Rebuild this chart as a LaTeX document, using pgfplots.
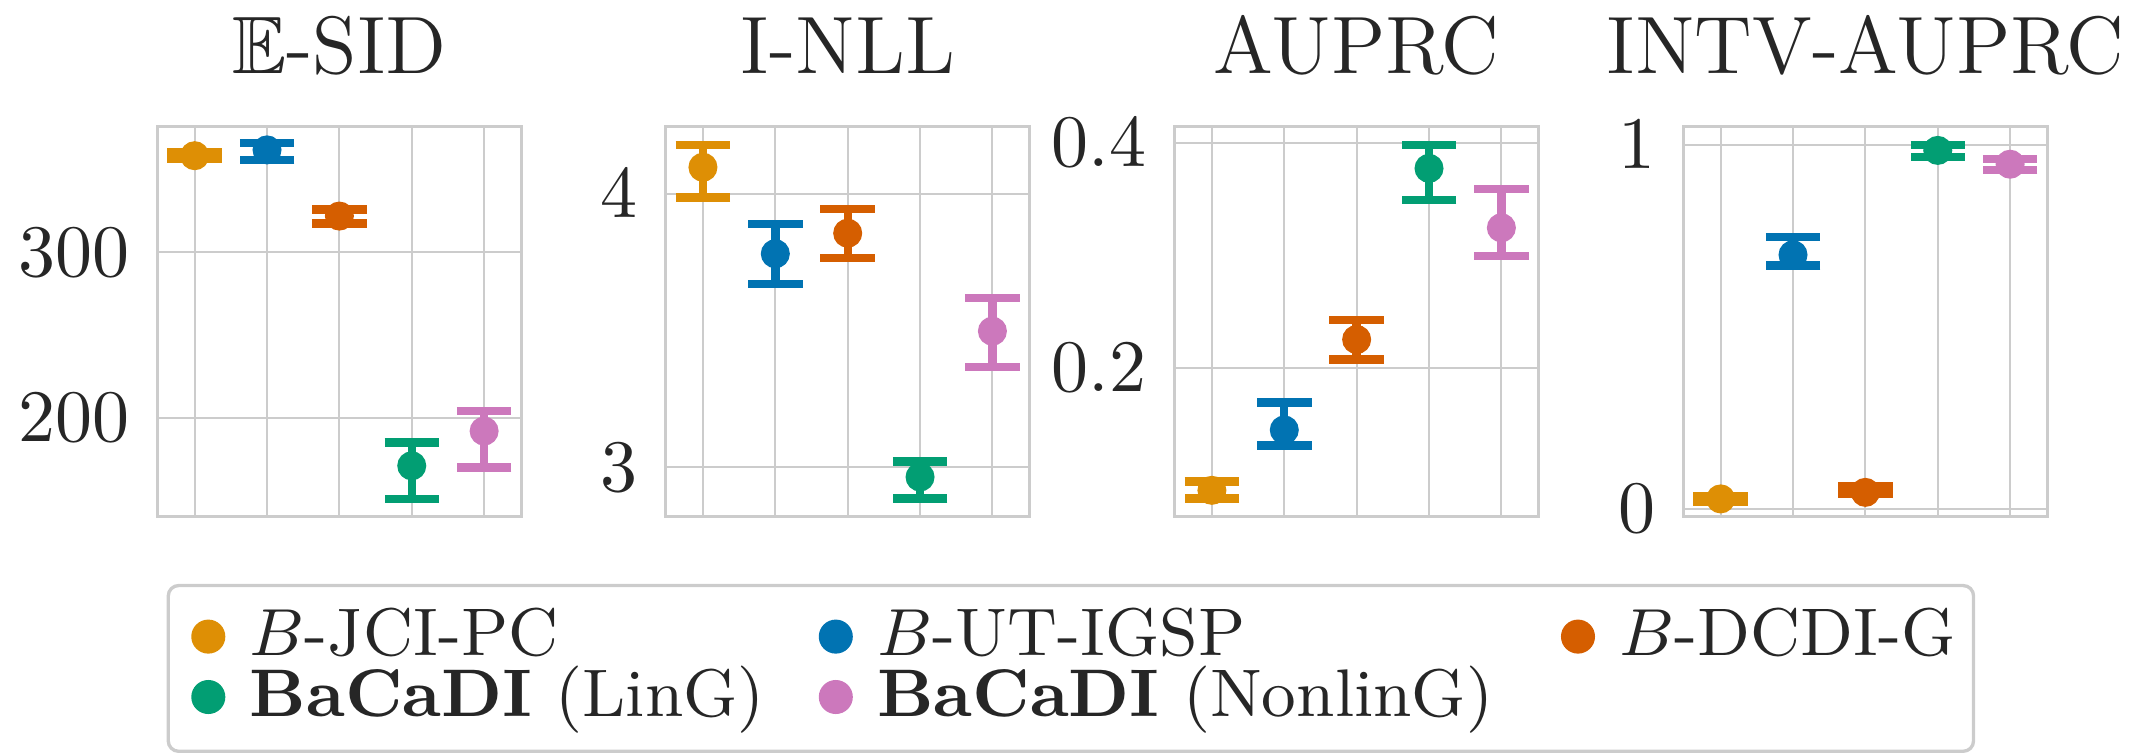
\documentclass[border=0pt]{standalone}
\usepackage{amssymb}
\usepackage{pgfplots}
\pgfplotsset{compat=1.18}
\definecolor{cO}{HTML}{DE8F05}
\definecolor{cB}{HTML}{0173B2}
\definecolor{cV}{HTML}{D55E00}
\definecolor{cG}{HTML}{029E73}
\definecolor{cP}{HTML}{CC78BC}
\definecolor{gridc}{HTML}{CCCCCC}
\definecolor{textc}{HTML}{262626}
\pgfplotsset{
  panel/.style={scale only axis, width=49.19pt, height=52.7pt, anchor=south west,
    xmin=-0.515, xmax=4.515, xtick={0,1,2,3,4}, xticklabels={},
    grid=major, major grid style={draw=gridc, line width=0.27pt},
    axis line style={draw=gridc, line width=0.45pt},
    major tick length=0pt, tick style={draw=none},
    yticklabel style={text=textc, inner sep=0pt, xshift=-3.6pt},
    title style={anchor=base, at={(0.5,1)}, yshift=1.2pt, text=textc,
      font=\fontsize{11}{13}\selectfont}},
  pt/.style={color=#1, only marks, mark=*, mark size=1.76pt,
    error bars/.cd, y dir=both, y explicit,
    error bar style={line width=1.13pt, color=#1},
    error mark options={rotate=90, line width=1.13pt, mark size=3.68pt, color=#1}},
}
\newcommand{\lt}[1]{\makebox[0pt][l]{\hspace{3pt}\rule[-2.05pt]{0pt}{8.55pt}#1}}
\begin{document}
\begin{tikzpicture}[x=1pt,y=1pt]
\useasboundingbox (0,0) rectangle (290.41,102.03);
% Panel 1
\begin{axis}[panel, at={(21.27pt,32.2pt)}, ymin=140.2, ymax=376.0, ytick={200,300}, title={$\mathbb{E}$-SID}]
\addplot[pt=cO] coordinates {(0,358.5) += (0,2.3) -= (0,2.0)};
\addplot[pt=cB] coordinates {(1,362) += (0,4) -= (0,6)};
\addplot[pt=cV] coordinates {(2,322) += (0,4) -= (0,4.5)};
\addplot[pt=cG] coordinates {(3,171) += (0,14) -= (0,20)};
\addplot[pt=cP] coordinates {(4,192) += (0,12) -= (0,22)};
\end{axis}
% Panel 2
\begin{axis}[panel, at={(89.96pt,32.2pt)}, ymin=2.82, ymax=4.245, ytick={3,4}, title={I-NLL}]
\addplot[pt=cO] coordinates {(0,4.097) += (0,0.082) -= (0,0.110)};
\addplot[pt=cB] coordinates {(1,3.781) += (0,0.108) -= (0,0.111)};
\addplot[pt=cV] coordinates {(2,3.856) += (0,0.089) -= (0,0.091)};
\addplot[pt=cG] coordinates {(3,2.965) += (0,0.057) -= (0,0.078)};
\addplot[pt=cP] coordinates {(4,3.498) += (0,0.121) -= (0,0.132)};
\end{axis}
% Panel 3
\begin{axis}[panel, at={(158.74pt,32.2pt)}, ymin=0.0675, ymax=0.4145, ytick={0.2,0.4}, title={AUPRC}]
\addplot[pt=cO] coordinates {(0,0.091) += (0,0.0078) -= (0,0.0073)};
\addplot[pt=cB] coordinates {(1,0.1447) += (0,0.0246) -= (0,0.0139)};
\addplot[pt=cV] coordinates {(2,0.2252) += (0,0.0171) -= (0,0.0178)};
\addplot[pt=cG] coordinates {(3,0.3775) += (0,0.0205) -= (0,0.0281)};
\addplot[pt=cP] coordinates {(4,0.3246) += (0,0.0346) -= (0,0.0249)};
\end{axis}
% Panel 4
\begin{axis}[panel, at={(227.49pt,32.2pt)}, ymin=-0.022, ymax=1.05, ytick={0,1}, title={INTV-AUPRC}]
\addplot[pt=cO] coordinates {(0,0.027) += (0,0.007) -= (0,0.007)};
\addplot[pt=cB] coordinates {(1,0.698) += (0,0.049) -= (0,0.029)};
\addplot[pt=cV] coordinates {(2,0.045) += (0,0.016) -= (0,0.005)};
\addplot[pt=cG] coordinates {(3,0.985) += (0,0.015) -= (0,0.019)};
\addplot[pt=cP] coordinates {(4,0.947) += (0,0.015) -= (0,0.016)};
\end{axis}
% Legend frame
\draw[gridc, line width=0.45pt, rounded corners=1.4pt] (22.74,0.5) rectangle (266.7,22.9);
% Legend
\begin{axis}[scale only axis, hide axis, at={(26.05pt,0pt)}, anchor=south west,
  width=100pt, height=20pt, xmin=0, xmax=1, ymin=0, ymax=1,
  legend columns=3,
  legend image code/.code={\draw[#1] plot coordinates {(0pt,0pt)};},
  legend style={at={(0,1)}, anchor=north west, draw=none, fill=none,
    inner sep=0pt, outer sep=0pt,
    font=\fontsize{9.1}{10.8}\selectfont, text=textc,
    nodes={inner sep=0pt, outer sep=0pt},
    column sep=0pt, row sep=0pt,
    /tikz/column 2/.style={column sep=79.6pt},
    /tikz/column 4/.style={column sep=95.1pt}},
  legend cell align=left]
\addlegendimage{only marks, mark=*, mark size=2.1pt, color=cO}
\addlegendentry{\lt{$B$-JCI-PC}}
\addlegendimage{only marks, mark=*, mark size=2.1pt, color=cB}
\addlegendentry{\lt{$B$-UT-IGSP}}
\addlegendimage{only marks, mark=*, mark size=2.1pt, color=cV}
\addlegendentry{\lt{$B$-DCDI-G}}
\addlegendimage{only marks, mark=*, mark size=2.1pt, color=cG}
\addlegendentry{\lt{\textbf{BaCaDI} (LinG)}}
\addlegendimage{only marks, mark=*, mark size=2.1pt, color=cP}
\addlegendentry{\lt{\textbf{BaCaDI} (NonlinG)}}
\end{axis}
\end{tikzpicture}
\end{document}
